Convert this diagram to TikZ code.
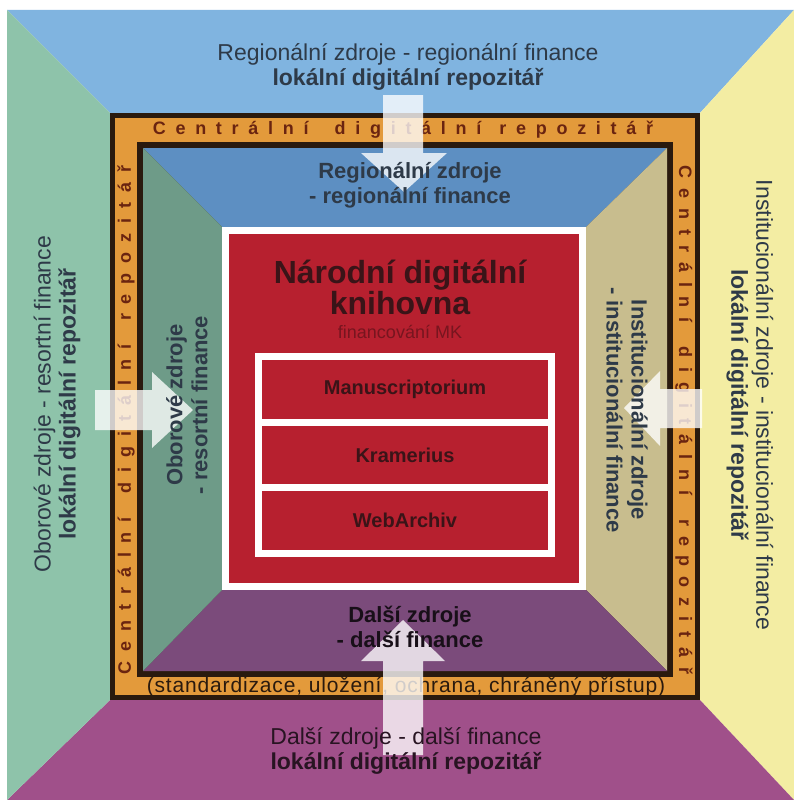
\documentclass[tikz,border=0pt]{standalone}
\usepackage{fontspec}
\setmainfont{Liberation Sans}
\usetikzlibrary{positioning}

\definecolor{outerblue}{HTML}{80B4E0}
\definecolor{outergreen}{HTML}{8EC3AA}
\definecolor{outeryellow}{HTML}{F3EDA3}
\definecolor{outerpurple}{HTML}{A0508A}
\definecolor{innerblue}{HTML}{5D8FC2}
\definecolor{innergreen}{HTML}{6E9B88}
\definecolor{innerkhaki}{HTML}{C8BD8E}
\definecolor{innerpurple}{HTML}{7B4B7B}
\definecolor{bandorange}{HTML}{E39A3B}
\definecolor{framedark}{HTML}{2A1A0E}
\definecolor{ndkred}{HTML}{B7202F}
\definecolor{bandtext}{HTML}{6A2410}
\definecolor{darktext}{HTML}{2E3A48}
\definecolor{redtext}{HTML}{3A1418}

\tikzset{
  outerlbl/.style={align=center, text=darktext, font=\fontsize{23}{25}\selectfont},
  innerlbl/.style={align=center, text=darktext, font=\bfseries\fontsize{22}{25}\selectfont},
  bandlbl/.style={text=bandtext, inner sep=0pt, font=\bfseries\fontsize{18}{18}\selectfont},
  rowbox/.style={fill=ndkred, minimum width=286, minimum height=58.7, inner sep=0pt,
    text=redtext, font=\bfseries\fontsize{20}{22}\selectfont},
  arrowfill/.style={fill=white, fill opacity=0.78},
}

\begin{document}
\begin{tikzpicture}[x=1pt,y=-1pt]
    \useasboundingbox (0,0) rectangle (794,800);
    \fill[white] (0,0) rectangle (794,800);

    % corners of the picture, the frame, the inner field and the red box
    \coordinate (o1) at (7,10);
    \coordinate (o2) at (794,10);
    \coordinate (o3) at (794,800);
    \coordinate (o4) at (7,800);
    \coordinate (f1) at (110,113);
    \coordinate (f2) at (700,113);
    \coordinate (f3) at (700,700);
    \coordinate (f4) at (110,700);
    \coordinate (i1) at (143,148);
    \coordinate (i2) at (667,148);
    \coordinate (i3) at (667,671);
    \coordinate (i4) at (143,671);
    \coordinate (r1) at (222,227);
    \coordinate (r2) at (586,227);
    \coordinate (r3) at (586,590);
    \coordinate (r4) at (222,590);

    % outer trapezoids
    \fill[outerblue] (o1) -- (o2) -- (f2) -- (f1) -- cycle;
    \fill[outeryellow] (o2) -- (o3) -- (f3) -- (f2) -- cycle;
    \fill[outerpurple] (o3) -- (o4) -- (f4) -- (f3) -- cycle;
    \fill[outergreen] (o4) -- (o1) -- (f1) -- (f4) -- cycle;

    % frame of the central repository
    \fill[framedark] (f1) rectangle (f3);
    \fill[bandorange] (115,118) rectangle (695,695);
    \fill[framedark] (137,142) rectangle (673,677);

    % inner trapezoids
    \fill[innerblue] (i1) -- (i2) -- (r2) -- (r1) -- cycle;
    \fill[innerkhaki] (i2) -- (i3) -- (r3) -- (r2) -- cycle;
    \fill[innerpurple] (i3) -- (i4) -- (r4) -- (r3) -- cycle;
    \fill[innergreen] (i4) -- (i1) -- (r1) -- (r4) -- cycle;

    % red box of the national library
    \fill[white] (r1) rectangle (r3);
    \fill[ndkred] (229,234) rectangle (579,583);
    \fill[white] (255,353) rectangle (555,557);
    \node[rowbox] (manus) at (405,389.3) {Manuscriptorium};
    \node[rowbox] (kram) at (405,455) {Kramerius};
    \node[rowbox] (webarch) at (405,520.7) {WebArchiv};

    % texts in the band
    \node[bandlbl] (bandTop) at (403,130)
      {\addfontfeature{LetterSpace=54}Centrální\hspace{26pt}digitální\hspace{18pt}repozitář};
    \node[bandlbl, rotate=90] (bandLeft) at (126,420)
      {\addfontfeature{LetterSpace=55}Centrální\hspace{24pt}digitální\hspace{24pt}repozitář};
    \node[bandlbl, rotate=-90] (bandRight) at (684,420)
      {\addfontfeature{LetterSpace=55}Centrální\hspace{24pt}digitální\hspace{24pt}repozitář};
    \node[bandlbl, font=\fontsize{21}{21}\selectfont\addfontfeature{LetterSpace=4},
      text=framedark] (bandBottom) at (406,687)
      {(standardizace, uložení, ochrana, chráněný přístup)};

    % white arrows
    \fill[arrowfill] (383,95) -- (423,95) -- (423,153) -- (447,153) -- (404,192)
      -- (361,153) -- (383,153) -- cycle;
    \fill[arrowfill] (383,755) -- (423,755) -- (423,661) -- (445,661) -- (403,620)
      -- (361,661) -- (383,661) -- cycle;
    \fill[arrowfill] (95,390) -- (95,430) -- (152,430) -- (152,448) -- (193,410)
      -- (152,372) -- (152,390) -- cycle;
    \fill[arrowfill] (702,389) -- (702,428) -- (660,428) -- (660,446) -- (624,408)
      -- (660,371) -- (660,389) -- cycle;

    % outer labels
    \node[outerlbl] (regOut) at (408,67)
      {Regionální zdroje - regionální finance\\ \textbf{lokální digitální repozitář}};
    \node[outerlbl, rotate=90] (oborOut) at (57,404)
      {Oborové zdroje - resortní finance\\ \textbf{lokální digitální repozitář}};
    \node[outerlbl, rotate=-90] (instOut) at (750,405)
      {Institucionální zdroje - institucionální finance\\ \textbf{lokální digitální repozitář}};
    \node[outerlbl, text=black!75!outerpurple] (dalsiOut) at (406,751)
      {Další zdroje - další finance\\ \textbf{lokální digitální repozitář}};

    % inner labels
    \node[innerlbl] (regIn) at (410,185) {Regionální zdroje\\- regionální finance};
    \node[innerlbl, rotate=90] (oborIn) at (187,405) {Oborové zdroje\\- resortní finance};
    \node[innerlbl, rotate=-90] (instIn) at (627,410)
      {Institucionální zdroje\\- institucionální finance};
    \node[innerlbl, text=black!80!innerpurple] (dalsiIn) at (410,627)
      {Další zdroje\\- další finance};

    % national digital library
    \node[align=center, text=redtext, font=\bfseries\fontsize{32}{27}\selectfont]
      (ndk) at (400,287) {Národní digitální\\knihovna};
    \node[text=black!35!ndkred, font=\fontsize{18}{20}\selectfont] (fundMK) at (400,332)
      {financování MK};
\end{tikzpicture}
\end{document}
